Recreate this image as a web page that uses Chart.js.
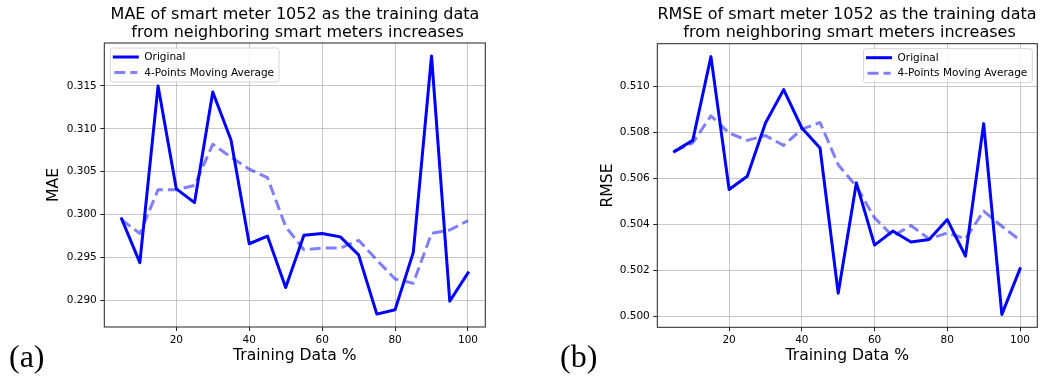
<!DOCTYPE html>
<html>
<head>
<meta charset="utf-8">
<script src="https://cdn.jsdelivr.net/npm/chart.js@4.4.1/dist/chart.umd.min.js"></script>
<style>
    body { margin: 0; background: #fff; }
    #wrap { position: relative; width: 1040px; height: 376px; overflow: hidden; font-family: 'DejaVu Sans', sans-serif; }
    canvas { position: absolute; top: 0; }
    .title { position: absolute; top: 5px; width: 520px; text-align: center; font-size: 16px; line-height: 17.5px; white-space: pre; color: #000; }
    .panel { position: absolute; top: 340px; font-family: 'Liberation Serif', serif; font-size: 32px; line-height: 32px; color: #000; }
</style>
</head>
<body>
<div id="wrap">
    <canvas id="mae-chart" width="520" height="376" style="left:0"></canvas>
    <canvas id="rmse-chart" width="520" height="376" style="left:520px"></canvas>
    <div class="title" style="left:35px">MAE of smart meter 1052 as the training data
 from neighboring smart meters increases</div>
    <div class="title" style="left:587px">RMSE of smart meter 1052 as the training data
 from neighboring smart meters increases</div>
    <div class="panel" style="left:9px">(a)</div>
    <div class="panel" style="left:560px">(b)</div>
</div>
<script>
// values
const trainingPct = [5, 10, 15, 20, 25, 30, 35, 40, 45, 50, 55, 60, 65, 70, 75, 80, 85, 90, 95, 100];

const maeOriginal = [0.2995, 0.2944, 0.3150, 0.3030, 0.3014, 0.3143, 0.3087, 0.2966, 0.2975, 0.2915,
    0.2976, 0.2978, 0.2974, 0.2953, 0.2884, 0.2889, 0.2956, 0.3185, 0.2899, 0.2932];
const maeMovingAvg = [0.2994, 0.2978, 0.3029, 0.3029, 0.3034, 0.3082, 0.3067, 0.3053, 0.3043, 0.2986,
    0.2959, 0.2961, 0.2961, 0.2970, 0.2947, 0.2925, 0.2920, 0.2978, 0.2982, 0.2993];

const rmseOriginal = [0.50717, 0.50765, 0.51130, 0.50551, 0.50609, 0.50841, 0.50986, 0.50819, 0.50732, 0.50099,
    0.50580, 0.50309, 0.50370, 0.50322, 0.50333, 0.50420, 0.50261, 0.50838, 0.50007, 0.50206];
const rmseMovingAvg = [0.50717, 0.50754, 0.50872, 0.50797, 0.50765, 0.50786, 0.50743, 0.50814, 0.50843, 0.50659,
    0.50565, 0.50428, 0.50348, 0.50394, 0.50336, 0.50362, 0.50336, 0.50457, 0.50391, 0.50330];

const xTicks = [20, 40, 60, 80, 100];
const maeTicks = [0.290, 0.295, 0.300, 0.305, 0.310, 0.315];
const rmseTicks = [0.500, 0.502, 0.504, 0.506, 0.508, 0.510];

const seriesLabels = ['Original', '4-Points Moving Average'];

const FONT = 'DejaVu Sans';

// matplotlib style auto limits: 5% margin on each side
function paddedRange(values) {
    let lo = Math.min(...values);
    let hi = Math.max(...values);
    let pad = (hi - lo) * 0.05;
    return [lo - pad, hi + pad];
}

function toPoints(values) {
    return trainingPct.map((x, i) => ({x: x, y: values[i]}));
}

// black frame around the plot area (spines)
const framePlugin = {
    id: 'frame',
    afterDatasetsDraw(chart) {
        const {ctx, chartArea: a} = chart;
        ctx.save();
        ctx.strokeStyle = '#222';
        ctx.lineWidth = 1;
        ctx.strokeRect(a.left, a.top, a.right - a.left, a.bottom - a.top);
        ctx.restore();
    }
};

// legend drawn inside the plot area, like the matplotlib one
const insideLegend = {
    id: 'insideLegend',
    afterDraw(chart, args, opts) {
        const {ctx, chartArea: a} = chart;
        const datasets = chart.data.datasets;
        ctx.save();
        ctx.font = '10.5px "' + FONT + '"';
        let textW = Math.max(...datasets.map(ds => ctx.measureText(ds.label).width));
        let w = 34 + textW + 5;
        let h = 34;
        let x = opts.align === 'right' ? a.right - 5 - w : a.left + 6;
        let y = a.top + 5;

        ctx.beginPath();
        ctx.roundRect(x, y, w, h, 2.5);
        ctx.fillStyle = 'rgba(255,255,255,0.8)';
        ctx.fill();
        ctx.strokeStyle = '#d6d6d6';
        ctx.lineWidth = 1;
        ctx.stroke();

        datasets.forEach((ds, i) => {
            let rowY = y + 9 + i * 15.5;
            ctx.beginPath();
            ctx.setLineDash(ds.borderDash || []);
            ctx.lineCap = ds.borderCapStyle;
            ctx.strokeStyle = ds.borderColor;
            ctx.lineWidth = ds.borderWidth;
            ctx.moveTo(x + 4, rowY);
            ctx.lineTo(x + 27, rowY);
            ctx.stroke();
            ctx.setLineDash([]);
            ctx.fillStyle = '#000';
            ctx.textBaseline = 'middle';
            ctx.fillText(ds.label, x + 34, rowY + 0.5);
        });
        ctx.restore();
    }
};

function makeChart(id, yLabel, original, movingAvg, yTicks, cfg) {
    const [yMin, yMax] = paddedRange(original.concat(movingAvg));
    const [xMin, xMax] = paddedRange(trainingPct);
    const tickFont = {family: FONT, size: 10.5};
    const titleFont = {family: FONT, size: 15.6};
    const grid = {
        color: 'rgba(176,176,176,0.7)',
        lineWidth: 1,
        tickColor: '#222',
        tickLength: 4,
        tickWidth: 1
    };

    let config = {
        type: 'line',
        data: {
            datasets: [{
                label: seriesLabels[0],
                data: toPoints(original),
                borderColor: '#0000ff',
                borderWidth: 3,
                borderCapStyle: 'square',
                borderJoinStyle: 'round',
                pointRadius: 0,
                tension: 0,
                order: 1
            }, {
                label: seriesLabels[1],
                data: toPoints(movingAvg),
                borderColor: 'rgba(0,0,255,0.5)',
                borderWidth: 3,
                borderDash: [11, 5],
                borderCapStyle: 'butt',
                borderJoinStyle: 'round',
                pointRadius: 0,
                tension: 0,
                order: 0
            }]
        },
        options: {
            responsive: false,
            animation: false,
            layout: {
                padding: {left: 0, right: cfg.padRight, top: cfg.padTop, bottom: 0}
            },
            plugins: {
                legend: {display: false},
                tooltip: {enabled: false},
                insideLegend: {align: cfg.legendAlign}
            },
            scales: {
                x: {
                    type: 'linear',
                    min: xMin,
                    max: xMax,
                    afterBuildTicks: s => { s.ticks = xTicks.map(v => ({value: v})); },
                    afterFit: s => { s.height = cfg.xHeight; },
                    ticks: {
                        callback: v => String(v),
                        font: tickFont,
                        color: '#000',
                        padding: 3,
                        maxRotation: 0,
                        autoSkip: false
                    },
                    grid: grid,
                    border: {display: false},
                    title: {
                        display: true,
                        text: 'Training Data %',
                        font: titleFont,
                        color: '#000',
                        padding: {top: 0, bottom: 10.6}
                    }
                },
                y: {
                    type: 'linear',
                    min: yMin,
                    max: yMax,
                    afterBuildTicks: s => { s.ticks = yTicks.map(v => ({value: v})); },
                    afterFit: s => { s.width = cfg.yWidth; },
                    ticks: {
                        callback: v => v.toFixed(3),
                        font: tickFont,
                        color: '#000',
                        padding: 3.5,
                        autoSkip: false
                    },
                    grid: grid,
                    border: {display: false},
                    title: {
                        display: true,
                        text: yLabel,
                        font: titleFont,
                        color: '#000',
                        padding: {top: cfg.yTitlePad, bottom: 0}
                    }
                }
            }
        },
        plugins: [framePlugin, insideLegend]
    };
    return new Chart(document.getElementById(id), config);
}

makeChart('mae-chart', 'MAE', maeOriginal, maeMovingAvg, maeTicks, {
    padRight: 34.7, padTop: 43, yWidth: 104.3, xHeight: 49, yTitlePad: 45, legendAlign: 'left'
});
makeChart('rmse-chart', 'RMSE', rmseOriginal, rmseMovingAvg, rmseTicks, {
    padRight: 2.7, padTop: 43.7, yWidth: 137.3, xHeight: 48.7, yTitlePad: 79, legendAlign: 'right'
});
</script>
</body>
</html>
